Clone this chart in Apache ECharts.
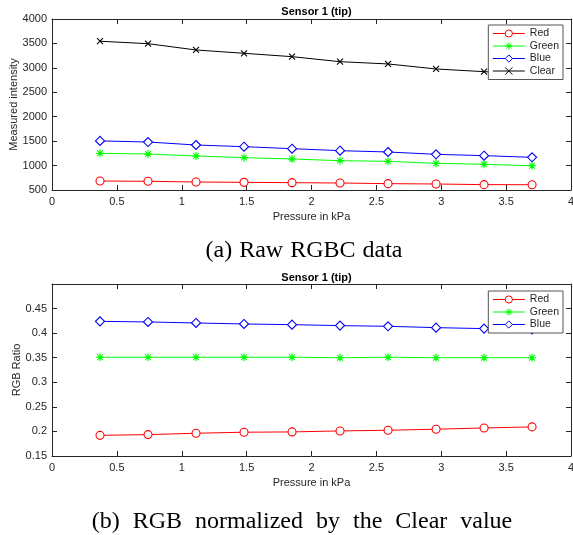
<!DOCTYPE html>
<html>
<head>
<meta charset="utf-8">
<script src="https://cdn.jsdelivr.net/npm/echarts@6/dist/echarts.min.js"></script>
<style>
  html, body { margin: 0; padding: 0; background: #fff; }
  #main { width: 573px; height: 535px; }
</style>
</head>
<body>
<div id="main"></div>
<script>
// pressure steps (kPa)
var pressure = [0.37, 0.74, 1.11, 1.48, 1.85, 2.22, 2.59, 2.96, 3.33, 3.70];

// (a) raw RGBC readings
var rawRed   = [684, 678, 664, 657, 650, 643, 630, 623, 610, 608];
var rawGreen = [1251, 1237, 1196, 1162, 1135, 1100, 1087, 1046, 1026, 997];
var rawBlue  = [1505, 1482, 1421, 1387, 1346, 1305, 1278, 1230, 1203, 1169];
var rawClear = [3545, 3495, 3366, 3298, 3229, 3126, 3080, 2977, 2922, 2880];

// (b) ratio to the clear channel
var ratioRed   = [0.192, 0.1935, 0.1963, 0.1984, 0.199, 0.201, 0.2024, 0.2045, 0.2071, 0.2092];
var ratioGreen = [0.351, 0.351, 0.351, 0.351, 0.351, 0.350, 0.351, 0.350, 0.350, 0.350];
var ratioBlue  = [0.424, 0.4228, 0.4207, 0.4187, 0.4173, 0.4153, 0.4139, 0.4112, 0.4092, 0.4075];

var legendRaw = ['Red', 'Green', 'Blue', 'Clear'];
var legendRatio = ['Red', 'Green', 'Blue'];

var AXIS = '#262626';
var FONT = 'Liberation Sans, Arial, sans-serif';
var SERIF = 'Liberation Serif, Times New Roman, serif';

function pairs(ys) {
  return pressure.map(function (x, i) { return [x, ys[i]]; });
}

var marks = {
  Red:   { symbol: 'circle', size: 8, color: '#ff0000', hollow: true },
  Green: { symbol: 'path://M0,-10L0,10M-10,0L10,0M-7,-7L7,7M-7,7L7,-7', size: 8, color: '#00ff00' },
  Blue:  { symbol: 'diamond', size: 9, color: '#0000ff', hollow: true },
  Clear: { symbol: 'path://M-10,-10L10,10M-10,10L10,-10', size: 6, color: '#000000' }
};

function markStyle(name) {
  var m = marks[name];
  return { color: m.hollow ? '#fff' : m.color, borderColor: m.color, borderWidth: 1.1 };
}

function makeSeries(name, ys, idx) {
  var m = marks[name];
  return {
    name: name,
    type: 'line',
    xAxisIndex: idx,
    yAxisIndex: idx,
    data: pairs(ys),
    symbol: m.symbol,
    symbolSize: m.size,
    symbolKeepAspect: true,
    showAllSymbol: true,
    animation: false,
    lineStyle: { color: m.color, width: 1 },
    itemStyle: markStyle(name),
    emphasis: { disabled: true }
  };
}

function fmt(v) {
  return String(Math.round(v * 100) / 100);
}

function bottomX(grid) {
  return {
    gridIndex: grid, type: 'value', min: 0, max: 4, interval: 0.5,
    name: 'Pressure in kPa', nameLocation: 'middle', nameGap: 21, nameMoveOverlap: false,
    nameTextStyle: { fontSize: 11, color: AXIS, fontFamily: FONT },
    axisLine: { show: true, onZero: false, lineStyle: { color: AXIS, width: 1 } },
    axisTick: { show: true, inside: true, length: 5, lineStyle: { color: AXIS } },
    axisLabel: { fontSize: 11, color: AXIS, fontFamily: FONT, margin: 6, formatter: fmt },
    splitLine: { show: false }
  };
}

function topX(grid) {
  return {
    gridIndex: grid, type: 'value', position: 'top', min: 0, max: 4, interval: 0.5,
    axisLine: { show: true, onZero: false, lineStyle: { color: AXIS, width: 1 } },
    axisTick: { show: true, inside: true, length: 5, lineStyle: { color: AXIS } },
    axisLabel: { show: false },
    splitLine: { show: false }
  };
}

function leftY(grid, min, max, step, name, gap) {
  return {
    gridIndex: grid, type: 'value', min: min, max: max, interval: step,
    name: name, nameLocation: 'middle', nameGap: gap, nameMoveOverlap: false,
    nameTextStyle: { fontSize: 11, color: AXIS, fontFamily: FONT },
    axisLine: { show: true, onZero: false, lineStyle: { color: AXIS, width: 1 } },
    axisTick: { show: true, inside: true, length: 5, lineStyle: { color: AXIS } },
    axisLabel: { fontSize: 11, color: AXIS, fontFamily: FONT, margin: 5, formatter: fmt },
    splitLine: { show: false }
  };
}

function rightY(grid, min, max, step) {
  return {
    gridIndex: grid, type: 'value', position: 'right', min: min, max: max, interval: step,
    axisLine: { show: true, onZero: false, lineStyle: { color: AXIS, width: 1 } },
    axisTick: { show: true, inside: true, length: 5, lineStyle: { color: AXIS } },
    axisLabel: { show: false },
    splitLine: { show: false }
  };
}

function legendAt(top, names) {
  return {
    data: names.map(function (n) {
      var s = markStyle(n);
      s.borderWidth = 1;
      return { name: n, itemStyle: s, lineStyle: { color: marks[n].color, width: 1 } };
    }),
    orient: 'vertical',
    right: 10,
    top: top,
    padding: [3, 4, 3, 4],
    itemWidth: 32,
    itemHeight: 9,
    itemGap: 1.5,
    backgroundColor: '#fff',
    borderColor: '#555',
    borderWidth: 1,
    selectedMode: false,
    textStyle: { fontSize: 10.5, lineHeight: 11, color: AXIS, fontFamily: FONT },
    z: 10
  };
}

var yRatio = leftY(1, 0.15, 0.5, 0.05, 'RGB Ratio', 30);
yRatio.axisLabel.showMaxLabel = false;

var series = [
  makeSeries('Red', rawRed, 0),
  makeSeries('Green', rawGreen, 0),
  makeSeries('Blue', rawBlue, 0),
  makeSeries('Clear', rawClear, 0),
  makeSeries('Red', ratioRed, 2),
  makeSeries('Green', ratioGreen, 2),
  makeSeries('Blue', ratioBlue, 2)
];

var option = {
  backgroundColor: '#fff',
  animation: false,
  title: [
    { text: 'Sensor 1 (tip)', left: 311.5, top: 1, textAlign: 'center',
      textStyle: { fontSize: 11, fontWeight: 'bold', color: '#000', fontFamily: FONT } },
    { text: 'Sensor 1 (tip)', left: 311.5, top: 267, textAlign: 'center',
      textStyle: { fontSize: 11, fontWeight: 'bold', color: '#000', fontFamily: FONT } },
    { text: '(a){s| }Raw{s| }RGBC{s| }data', left: 299, top: 234, textAlign: 'center',
      textStyle: { fontSize: 24, fontWeight: 'normal', color: '#000', fontFamily: SERIF,
        rich: { s: { width: 7, fontSize: 24, fontFamily: SERIF } } } },
    { text: '(b){s| }RGB{s| }normalized{s| }by{s| }the{s| }Clear{s| }value', left: 297, top: 505, textAlign: 'center',
      textStyle: { fontSize: 24, fontWeight: 'normal', color: '#000', fontFamily: SERIF,
        rich: { s: { width: 13, fontSize: 24, fontFamily: SERIF } } } }
  ],
  legend: [legendAt(25, legendRaw), legendAt(291, legendRatio)],
  grid: [
    { left: 52, right: 2, top: 19, height: 171, outerBoundsMode: 'none' },
    { left: 52, right: 2, top: 284, height: 172, outerBoundsMode: 'none' }
  ],
  xAxis: [bottomX(0), topX(0), bottomX(1), topX(1)],
  yAxis: [
    leftY(0, 500, 4000, 500, 'Measured intensity', 33),
    rightY(0, 500, 4000, 500),
    yRatio,
    rightY(1, 0.15, 0.5, 0.05)
  ],
  series: series
};

echarts.init(document.getElementById('main'), null, { renderer: 'canvas' }).setOption(option);
</script>
</body>
</html>
